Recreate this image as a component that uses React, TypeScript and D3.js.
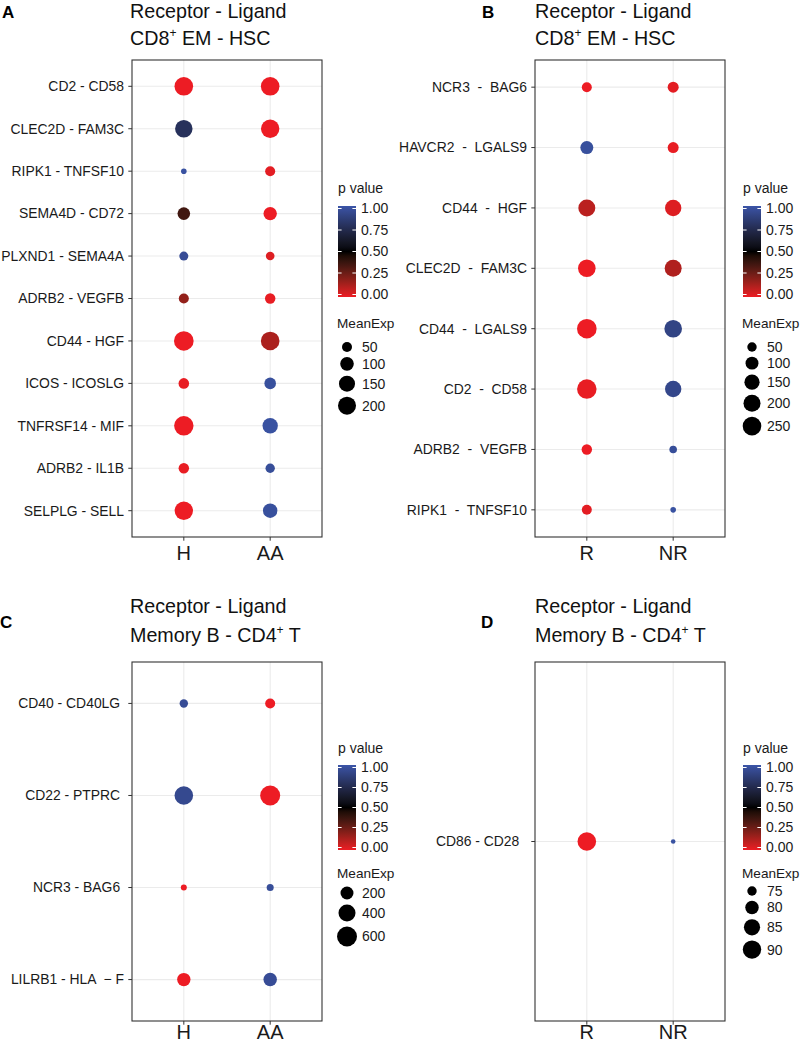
import React from 'react';
import * as d3 from 'd3';

const FONT = "'Liberation Sans', Arial, Helvetica, sans-serif";
const RED = '#ED1C24';
const MID = '#000000';
const BLUE = '#3B55A8';

// ---------- Panel A ----------
const rowsA = ['CD2 - CD58', 'CLEC2D - FAM3C', 'RIPK1 - TNFSF10', 'SEMA4D - CD72', 'PLXND1 - SEMA4A', 'ADRB2 - VEGFB', 'CD44 - HGF', 'ICOS - ICOSLG', 'TNFRSF14 - MIF', 'ADRB2 - IL1B', 'SELPLG - SELL'];
const groupsA = ['H', 'AA'];
const meanExpA_H = [217, 184, 28, 83, 41, 50, 247, 56, 241, 54, 211];
const meanExpA_AA = [217, 211, 50, 96, 38, 54, 217, 68, 135, 44, 115];
const pA_H = [0, 0.78, 0.98, 0.36, 0.95, 0.18, 0, 0.01, 0, 0.01, 0];
const pA_AA = [0, 0, 0.02, 0, 0.03, 0.01, 0.13, 0.97, 0.98, 0.96, 0.97];
const sizeBreaksA = [50, 100, 150, 200];

// ---------- Panel B ----------
const rowsB = ['NCR3  -  BAG6', 'HAVCR2  -  LGALS9', 'CD44  -  HGF', 'CLEC2D  -  FAM3C', 'CD44  -  LGALS9', 'CD2  -  CD58', 'ADRB2  -  VEGFB', 'RIPK1  -  TNFSF10'];
const groupsB = ['R', 'NR'];
const meanExpB_R = [56, 102, 199, 218, 285, 280, 61, 56];
const meanExpB_NR = [69, 69, 182, 199, 218, 182, 36, 31];
const pB_R = [0, 0.97, 0.1, 0, 0, 0.01, 0, 0.02];
const pB_NR = [0.02, 0.01, 0.03, 0.12, 0.9, 0.92, 0.96, 0.98];
const sizeBreaksB = [50, 100, 150, 200, 250];

// ---------- Panel C ----------
const rowsC = ['CD40 - CD40LG ', 'CD22 - PTPRC ', 'NCR3 - BAG6 ', 'LILRB1 - HLA  \u2212 F'];
const groupsC = ['H', 'AA'];
const meanExpC_H = [83, 499, 67, 216];
const meanExpC_AA = [111, 605, 70, 220];
const pC_H = [0.95, 0.93, 0, 0];
const pC_AA = [0, 0, 0.96, 0.95];
const sizeBreaksC = [200, 400, 600];

// ---------- Panel D ----------
const rowsD = ['CD86 - CD28  '];
const groupsD = ['R', 'NR'];
const meanExpD_R = [90.5];
const meanExpD_NR = [72.9];
const pD_R = [0];
const pD_NR = [0.98];
const sizeBreaksD = [75, 80, 85, 90];

const pBreaks = [0, 0.25, 0.5, 0.75, 1];

const colorScale = d3
  .scaleLinear<string>()
  .domain([0, 0.5, 1])
  .range([RED, MID, BLUE])
  .interpolate(d3.interpolateLab);

function makeSize(values: number[], rRange: [number, number]) {
  const [mn, mx] = d3.extent(values) as [number, number];
  const lin = d3.scaleLinear().domain([mn, mx]).range([0, 1]).clamp(true);
  const r = d3.scaleLinear().domain([0, 1]).range(rRange);
  return (v: number) => r(Math.sqrt(lin(v)));
}

const panels = [
  {
    id: 'A', letterX: 2, letterY: 18, titleX: 130, t1Y: 17.5, t2Y: 45,
    line2: ['CD8', '+', ' EM - HSC'],
    box: [132, 322, 60, 537], rows: rowsA, groups: groupsA,
    mean: [meanExpA_H, meanExpA_AA], p: [pA_H, pA_AA], yPad: 0.62,
    rRange: [2.8, 9.8] as [number, number], sizeBreaks: sizeBreaksA, xLabY: 560,
    legX: 338, pTitleY: 193, barTop: 206, barBot: 297, meanTitleY: 328, keyStart: 347,
  },
  {
    id: 'B', letterX: 482, letterY: 18, titleX: 535, t1Y: 17.5, t2Y: 45,
    line2: ['CD8', '+', ' EM - HSC'],
    box: [535, 725, 60, 537], rows: rowsB, groups: groupsB,
    mean: [meanExpB_R, meanExpB_NR], p: [pB_R, pB_NR], yPad: 0.45,
    rRange: [2.8, 9.8] as [number, number], sizeBreaks: sizeBreaksB, xLabY: 560,
    legX: 743, pTitleY: 193, barTop: 206, barBot: 297, meanTitleY: 328, keyStart: 347,
  },
  {
    id: 'C', letterX: 0, letterY: 628, titleX: 130, t1Y: 613, t2Y: 642,
    line2: ['Memory B - CD4', '+', ' T'],
    box: [132, 322, 662, 1021], rows: rowsC, groups: groupsC,
    mean: [meanExpC_H, meanExpC_AA], p: [pC_H, pC_AA], yPad: 0.45,
    rRange: [3, 10] as [number, number], sizeBreaks: sizeBreaksC, xLabY: 1039,
    legX: 338, pTitleY: 753, barTop: 765, barBot: 850, meanTitleY: 878, keyStart: 893,
  },
  {
    id: 'D', letterX: 481, letterY: 628, titleX: 535, t1Y: 613, t2Y: 642,
    line2: ['Memory B - CD4', '+', ' T'],
    box: [535, 725, 662, 1021], rows: rowsD, groups: groupsD,
    mean: [meanExpD_R, meanExpD_NR], p: [pD_R, pD_NR], yPad: 0.45,
    rRange: [2.3, 9.3] as [number, number], sizeBreaks: sizeBreaksD, xLabY: 1039,
    legX: 743, pTitleY: 753, barTop: 765, barBot: 850, meanTitleY: 878, keyStart: 891,
  },
];

function Panel({ cfg }: { cfg: any }) {
  const [x0, x1, y0, y1] = cfg.box;
  const xS = d3.scalePoint<string>().domain(cfg.groups).range([x0, x1]).padding(0.6);
  const yS = d3.scalePoint<string>().domain(cfg.rows).range([y0, y1]).padding(cfg.yPad);
  const allVals: number[] = cfg.mean.flat();
  const rS = makeSize(allVals, cfg.rRange);
  const pY = d3.scaleLinear().domain([0, 1]).range([cfg.barBot - 2.5, cfg.barTop + 2.5]);
  const gradId = 'grad' + cfg.id;
  const stops = d3.range(0, 1.0001, 0.05);
  const barW = 18;
  const lx = cfg.legX;

  const keyR = cfg.sizeBreaks.map((b: number) => rS(b));
  const keyY: number[] = [];
  keyR.forEach((r: number, i: number) => {
    if (i === 0) keyY.push(cfg.keyStart);
    else keyY.push(keyY[i - 1] + keyR[i - 1] + r + 5);
  });

  const textCol = '#1a1a1a';

  return (
    <g>
      <defs>
        <linearGradient id={gradId} x1="0" y1="1" x2="0" y2="0">
          {stops.map((s) => (
            <stop key={s} offset={s} stopColor={colorScale(s)} />
          ))}
        </linearGradient>
      </defs>
      <text x={cfg.letterX} y={cfg.letterY} fontSize={17} fontWeight="bold" fontFamily={FONT} fill="#000">
        {cfg.id}
      </text>
      <text x={cfg.titleX} y={cfg.t1Y} fontSize={19.7} fontFamily={FONT} fill="#111">
        Receptor - Ligand
      </text>
      <text x={cfg.titleX} y={cfg.t2Y} fontSize={19.7} fontFamily={FONT} fill="#111">
        <tspan>{cfg.line2[0]}</tspan>
        <tspan dy={-8} fontSize={12}>{cfg.line2[1]}</tspan>
        <tspan dy={8}>{cfg.line2[2]}</tspan>
      </text>
      {cfg.groups.map((g: string) => (
        <line key={'gx' + g} x1={xS(g)} x2={xS(g)} y1={y0} y2={y1} stroke="#EBEBEB" strokeWidth={1.1} />
      ))}
      {cfg.rows.map((r: string) => (
        <line key={'gy' + r} x1={x0} x2={x1} y1={yS(r)} y2={yS(r)} stroke="#EBEBEB" strokeWidth={1.1} />
      ))}
      <rect x={x0} y={y0} width={x1 - x0} height={y1 - y0} fill="none" stroke="#333" strokeWidth={1.1} />
      {cfg.rows.map((r: string) => (
        <g key={'yl' + r}>
          <line x1={x0 - 3.7} x2={x0} y1={yS(r)} y2={yS(r)} stroke="#333" strokeWidth={1} />
          <text
            x={x0 - 8}
            y={yS(r)}
            dy="0.35em"
            textAnchor="end"
            fontSize={13.9}
            fontFamily={FONT}
            fill={textCol}
            style={{ whiteSpace: 'pre' }}
          >
            {r}
          </text>
        </g>
      ))}
      {cfg.groups.map((g: string) => (
        <g key={'xl' + g}>
          <line x1={xS(g)} x2={xS(g)} y1={y1} y2={y1 + 3.7} stroke="#333" strokeWidth={1} />
          <text x={xS(g)} y={cfg.xLabY} textAnchor="middle" fontSize={20} fontFamily={FONT} fill={textCol}>
            {g}
          </text>
        </g>
      ))}
      {cfg.groups.map((g: string, gi: number) =>
        cfg.rows.map((r: string, ri: number) => (
          <circle
            key={'pt' + g + ri}
            cx={xS(g)}
            cy={yS(r)}
            r={rS(cfg.mean[gi][ri])}
            fill={colorScale(cfg.p[gi][ri])}
          />
        ))
      )}
      <text x={lx} y={cfg.pTitleY} fontSize={14} fontFamily={FONT} fill={textCol}>
        p value
      </text>
      <rect x={lx} y={cfg.barTop} width={barW} height={cfg.barBot - cfg.barTop} fill={`url(#${gradId})`} />
      {pBreaks.map((b) => (
        <g key={'pb' + b}>
          <line x1={lx} x2={lx + 3.6} y1={pY(b)} y2={pY(b)} stroke="#fff" strokeWidth={1} />
          <line x1={lx + barW - 3.6} x2={lx + barW} y1={pY(b)} y2={pY(b)} stroke="#fff" strokeWidth={1} />
          <text x={lx + barW + 5} y={pY(b)} dy="0.35em" fontSize={14} fontFamily={FONT} fill={textCol}>
            {d3.format('.2f')(b)}
          </text>
        </g>
      ))}
      <text x={lx - 1} y={cfg.meanTitleY} fontSize={13.6} fontFamily={FONT} fill={textCol}>
        MeanExp
      </text>
      {cfg.sizeBreaks.map((b: number, i: number) => (
        <g key={'sb' + b}>
          <circle cx={lx + 9} cy={keyY[i]} r={keyR[i]} fill="#000" />
          <text x={lx + 24} y={keyY[i]} dy="0.35em" fontSize={14} fontFamily={FONT} fill={textCol}>
            {b}
          </text>
        </g>
      ))}
    </g>
  );
}

export default function App() {
  return (
    <svg
      width={800}
      height={1045}
      viewBox="0 0 800 1045"
      style={{ position: 'absolute', left: 0, top: 0, display: 'block', background: '#fff' }}
    >
      <rect x={0} y={0} width={800} height={1045} fill="#fff" />
      {panels.map((p) => (
        <Panel key={p.id} cfg={p} />
      ))}
    </svg>
  );
}
